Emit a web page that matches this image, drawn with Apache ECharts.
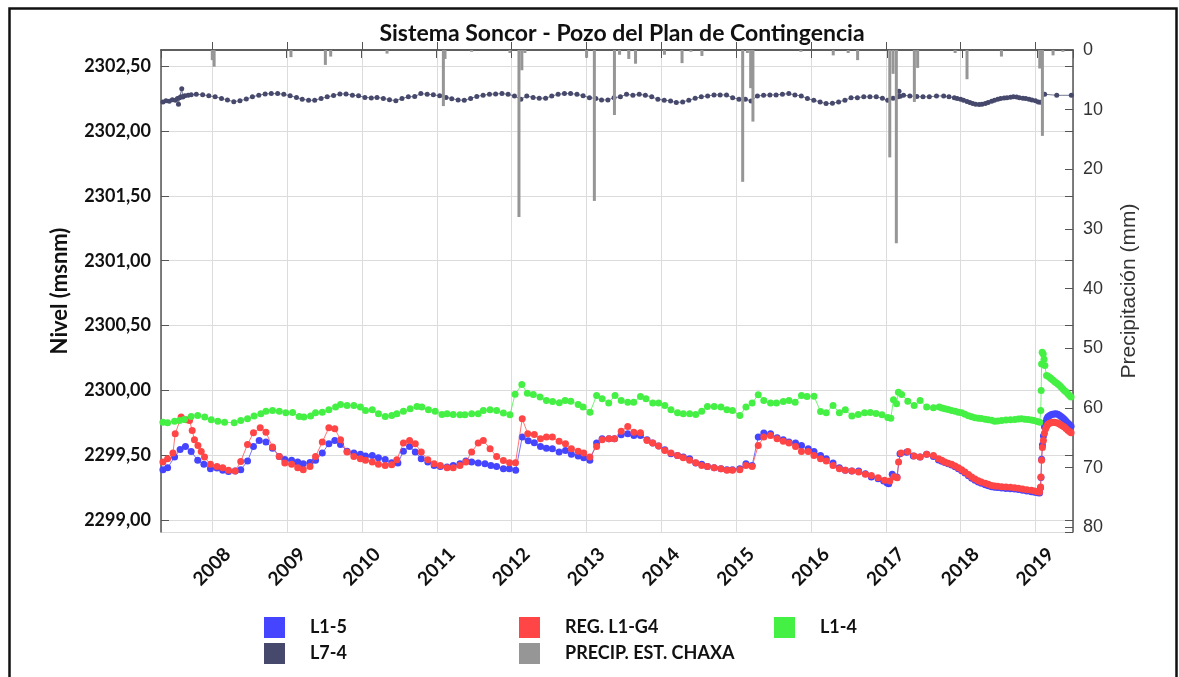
<!DOCTYPE html>
<html><head><meta charset="utf-8">
<script src="https://cdn.jsdelivr.net/npm/echarts@6/dist/echarts.min.js"></script>
<style>html,body{margin:0;padding:0;background:#fff}#c{width:1179px;height:677px}</style>
</head><body><div id="c"></div>
<script>
const TITLE = 'Sistema Soncor - Pozo del Plan de Contingencia';
const NAMES = ['L1-5', 'REG. L1-G4', 'L1-4', 'L7-4', 'PRECIP. EST. CHAXA'];

const L1_5 = [
['2007-05-05',2299.39],['2007-05-28',2299.405],['2007-07-01',2299.487],['2007-07-28',2299.546],['2007-08-23',2299.569],['2007-09-20',2299.531],['2007-10-22',2299.462],['2007-11-21',2299.431],['2007-12-23',2299.397],
['2008-01-24',2299.403],['2008-02-21',2299.385],['2008-03-20',2299.377],['2008-04-22',2299.38],['2008-05-19',2299.39],['2008-06-21',2299.456],['2008-07-20',2299.569],['2008-08-17',2299.615],['2008-09-19',2299.603],['2008-10-21',2299.556],['2008-11-23',2299.492],['2008-12-20',2299.469],
['2009-01-22',2299.462],['2009-02-21',2299.449],['2009-03-20',2299.436],['2009-04-22',2299.446],['2009-05-19',2299.462],['2009-06-21',2299.518],['2009-07-23',2299.59],['2009-08-21',2299.615],['2009-09-18',2299.585],['2009-10-20',2299.533],['2009-11-22',2299.518],['2009-12-24',2299.508],
['2010-01-18',2299.495],['2010-02-20',2299.5],['2010-03-22',2299.482],['2010-04-24',2299.469],['2010-05-26',2299.444],['2010-06-25',2299.441],['2010-07-22',2299.533],['2010-08-21',2299.569],['2010-09-18',2299.526],['2010-10-17',2299.474],['2010-11-18',2299.449],['2010-12-19',2299.423],
['2011-01-18',2299.415],['2011-02-20',2299.41],['2011-03-22',2299.423],['2011-04-24',2299.436],['2011-05-23',2299.456],['2011-06-20',2299.449],['2011-07-22',2299.441],['2011-08-24',2299.436],['2011-09-22',2299.423],['2011-10-20',2299.415],['2011-11-22',2299.397],['2011-12-21',2299.397],
['2012-01-21',2299.385],['2012-02-22',2299.641],['2012-03-22',2299.612],['2012-04-21',2299.597],['2012-05-21',2299.569],['2012-06-19',2299.556],['2012-07-18',2299.551],['2012-08-20',2299.526],['2012-09-20',2299.538],['2012-10-19',2299.508],['2012-11-21',2299.495],['2012-12-18',2299.482],
['2013-01-17',2299.462],['2013-02-19',2299.595],['2013-03-18',2299.628],['2013-04-20',2299.628],['2013-05-17',2299.628],['2013-06-19',2299.659],['2013-07-21',2299.667],['2013-08-20',2299.654],['2013-09-21',2299.654],['2013-10-23',2299.62],['2013-11-20',2299.595],['2013-12-19',2299.572],
['2014-01-18',2299.544],['2014-02-17',2299.513],['2014-03-21',2299.5],['2014-04-18',2299.487],['2014-05-19',2299.474],['2014-06-18',2299.441],['2014-07-17',2299.431],['2014-08-14',2299.415],['2014-09-16',2299.405],['2014-10-19',2299.397],['2014-11-17',2299.39],['2014-12-14',2299.39],
['2015-01-19',2299.397],['2015-02-18',2299.436],['2015-03-20',2299.423],['2015-04-19',2299.641],['2015-05-16',2299.672],['2015-06-18',2299.667],['2015-07-20',2299.636],['2015-08-19',2299.62],['2015-09-16',2299.603],['2015-10-18',2299.595],['2015-11-16',2299.577],['2015-12-19',2299.551],
['2016-01-16',2299.531],['2016-02-17',2299.5],['2016-03-16',2299.474],['2016-04-18',2299.441],['2016-05-19',2299.405],['2016-06-17',2299.385],['2016-07-19',2299.379],['2016-08-21',2299.379],['2016-09-23',2299.359],['2016-10-22',2299.333],['2016-11-24',2299.321],['2016-12-21',2299.303],
['2017-01-07',2299.287],['2017-01-15',2299.282],['2017-02-01',2299.354],['2017-02-24',2299.333],['2017-03-11',2299.513],['2017-04-12',2299.525],['2017-05-15',2299.495],['2017-06-17',2299.487],['2017-07-19',2299.508],['2017-08-21',2299.492],['2017-09-15',2299.465],
['2017-10-01',2299.455],['2017-10-16',2299.445],['2017-11-01',2299.435],['2017-11-18',2299.426],['2017-12-05',2299.412],['2017-12-21',2299.398],
['2018-01-06',2299.382],['2018-01-22',2299.364],['2018-02-08',2299.344],['2018-02-24',2299.325],['2018-03-12',2299.309],['2018-03-28',2299.296],['2018-04-12',2299.285],['2018-05-01',2299.274],['2018-05-16',2299.266],['2018-06-01',2299.259],['2018-06-16',2299.255],['2018-07-01',2299.252],['2018-07-20',2299.249],['2018-08-10',2299.246],['2018-09-01',2299.244],['2018-09-21',2299.241],['2018-10-10',2299.237],['2018-10-30',2299.232],['2018-11-20',2299.226],['2018-12-12',2299.221],['2018-12-28',2299.216],
['2019-01-12',2299.212],['2019-01-21',2299.21],['2019-01-26',2299.25],['2019-01-28',2299.33],['2019-01-31',2299.47],['2019-02-04',2299.58],['2019-02-09',2299.65],['2019-02-14',2299.72],['2019-02-20',2299.756],['2019-02-25',2299.78],['2019-03-02',2299.795],['2019-03-10',2299.806],['2019-03-18',2299.813],['2019-03-26',2299.817],['2019-04-03',2299.819],['2019-04-11',2299.82],['2019-04-20',2299.818],['2019-04-28',2299.81],['2019-05-06',2299.8],['2019-05-14',2299.79],['2019-05-22',2299.778],['2019-05-30',2299.765],['2019-06-08',2299.75],['2019-06-16',2299.738],['2019-06-24',2299.725]
];

const REG_L1_G4 = [
['2007-05-05',2299.449],['2007-05-28',2299.474],['2007-06-23',2299.518],['2007-07-04',2299.667],['2007-08-02',2299.795],['2007-08-27',2299.774],['2007-09-12',2299.769],['2007-09-25',2299.692],['2007-10-06',2299.621],['2007-10-23',2299.577],['2007-11-08',2299.531],['2007-11-24',2299.487],['2007-12-23',2299.431],
['2008-01-24',2299.415],['2008-02-21',2299.405],['2008-03-20',2299.385],['2008-04-22',2299.379],['2008-05-19',2299.454],['2008-06-21',2299.585],['2008-07-20',2299.674],['2008-08-22',2299.713],['2008-09-19',2299.679],['2008-10-21',2299.564],['2008-11-23',2299.492],['2008-12-20',2299.441],
['2009-01-22',2299.431],['2009-02-21',2299.405],['2009-03-20',2299.39],['2009-04-22',2299.415],['2009-05-19',2299.492],['2009-06-21',2299.603],['2009-07-23',2299.713],['2009-08-21',2299.705],['2009-09-18',2299.621],['2009-10-20',2299.526],['2009-11-22',2299.492],['2009-12-24',2299.474],
['2010-01-18',2299.462],['2010-02-20',2299.449],['2010-03-22',2299.431],['2010-04-24',2299.423],['2010-05-26',2299.428],['2010-06-20',2299.467],['2010-07-22',2299.595],['2010-08-21',2299.615],['2010-09-18',2299.59],['2010-10-17',2299.526],['2010-11-18',2299.467],['2010-12-19',2299.436],
['2011-01-18',2299.423],['2011-02-20',2299.405],['2011-03-22',2299.405],['2011-04-24',2299.423],['2011-05-23',2299.449],['2011-06-20',2299.526],['2011-07-22',2299.595],['2011-08-16',2299.615],['2011-09-18',2299.551],['2011-10-20',2299.492],['2011-11-22',2299.46],['2011-12-22',2299.444],
['2012-01-20',2299.443],['2012-02-22',2299.782],['2012-03-20',2299.667],['2012-04-21',2299.662],['2012-05-21',2299.628],['2012-06-19',2299.641],['2012-07-18',2299.641],['2012-08-20',2299.61],['2012-09-20',2299.59],['2012-10-19',2299.551],['2012-11-21',2299.533],['2012-12-18',2299.518],
['2013-01-17',2299.487],['2013-02-19',2299.569],['2013-03-18',2299.621],['2013-04-20',2299.628],['2013-05-17',2299.628],['2013-06-19',2299.687],['2013-07-21',2299.723],['2013-08-20',2299.679],['2013-09-21',2299.674],['2013-10-23',2299.615],['2013-11-20',2299.595],['2013-12-19',2299.572],
['2014-01-18',2299.538],['2014-02-17',2299.518],['2014-03-21',2299.5],['2014-04-18',2299.482],['2014-05-19',2299.462],['2014-06-18',2299.444],['2014-07-17',2299.423],['2014-08-14',2299.415],['2014-09-16',2299.405],['2014-10-19',2299.397],['2014-11-17',2299.385],['2014-12-14',2299.385],
['2015-01-19',2299.39],['2015-02-18',2299.423],['2015-03-20',2299.415],['2015-04-19',2299.577],['2015-05-16',2299.641],['2015-06-18',2299.654],['2015-07-20',2299.628],['2015-08-19',2299.61],['2015-09-16',2299.595],['2015-10-18',2299.569],['2015-11-16',2299.531],['2015-12-19',2299.531],
['2016-01-16',2299.5],['2016-02-17',2299.474],['2016-03-16',2299.456],['2016-04-18',2299.423],['2016-05-19',2299.397],['2016-06-17',2299.385],['2016-07-19',2299.379],['2016-08-21',2299.372],['2016-09-23',2299.354],['2016-10-22',2299.346],['2016-11-24',2299.328],['2016-12-26',2299.308],
['2017-01-20',2299.303],['2017-02-09',2299.335],['2017-02-25',2299.328],['2017-03-04',2299.45],['2017-03-16',2299.518],['2017-04-18',2299.531],['2017-05-19',2299.495],['2017-06-17',2299.487],['2017-07-19',2299.508],['2017-08-21',2299.5],['2017-09-15',2299.474],
['2017-10-01',2299.462],['2017-10-16',2299.449],['2017-11-01',2299.44],['2017-11-18',2299.431],['2017-12-05',2299.418],['2017-12-21',2299.405],
['2018-01-06',2299.39],['2018-01-22',2299.372],['2018-02-08',2299.352],['2018-02-24',2299.333],['2018-03-12',2299.318],['2018-03-28',2299.305],['2018-04-12',2299.295],['2018-05-01',2299.285],['2018-05-16',2299.277],['2018-06-01',2299.269],['2018-06-16',2299.265],['2018-07-01',2299.262],['2018-07-20',2299.259],['2018-08-10',2299.256],['2018-09-01',2299.254],['2018-09-21',2299.251],['2018-10-10',2299.247],['2018-10-30',2299.242],['2018-11-20',2299.236],['2018-12-12',2299.231],['2018-12-28',2299.226],
['2019-01-12',2299.221],['2019-01-21',2299.218],['2019-01-26',2299.256],['2019-01-28',2299.333],['2019-01-31',2299.462],['2019-02-04',2299.56],['2019-02-09',2299.615],['2019-02-14',2299.67],['2019-02-20',2299.705],['2019-02-25',2299.725],['2019-03-02',2299.738],['2019-03-10',2299.747],['2019-03-18',2299.752],['2019-03-26',2299.756],['2019-04-03',2299.755],['2019-04-11',2299.752],['2019-04-20',2299.749],['2019-04-28',2299.742],['2019-05-06',2299.734],['2019-05-14',2299.726],['2019-05-22',2299.718],['2019-05-30',2299.708],['2019-06-08',2299.694],['2019-06-16',2299.684],['2019-06-24',2299.675]
];

const L1_4 = [
['2007-05-05',2299.756],['2007-05-28',2299.751],['2007-07-01',2299.764],['2007-07-25',2299.769],['2007-08-18',2299.777],['2007-09-20',2299.8],['2007-10-22',2299.808],['2007-11-25',2299.795],['2007-12-27',2299.774],
['2008-01-28',2299.764],['2008-03-01',2299.756],['2008-04-17',2299.751],['2008-05-19',2299.769],['2008-06-21',2299.782],['2008-07-23',2299.803],['2008-08-25',2299.821],['2008-09-19',2299.841],['2008-10-21',2299.846],['2008-11-23',2299.841],['2008-12-25',2299.828],
['2009-01-27',2299.831],['2009-02-28',2299.8],['2009-03-23',2299.795],['2009-04-25',2299.803],['2009-05-19',2299.828],['2009-06-21',2299.833],['2009-07-23',2299.851],['2009-08-25',2299.872],['2009-09-18',2299.892],['2009-10-20',2299.885],['2009-11-22',2299.885],['2009-12-24',2299.872],
['2010-01-18',2299.846],['2010-02-20',2299.851],['2010-03-22',2299.821],['2010-04-24',2299.8],['2010-05-26',2299.808],['2010-06-20',2299.821],['2010-07-22',2299.841],['2010-08-24',2299.859],['2010-09-26',2299.877],['2010-10-20',2299.872],['2010-11-21',2299.851],['2010-12-24',2299.841],
['2011-01-26',2299.815],['2011-02-20',2299.821],['2011-03-22',2299.815],['2011-04-24',2299.813],['2011-05-18',2299.813],['2011-06-20',2299.821],['2011-07-22',2299.821],['2011-08-16',2299.846],['2011-09-18',2299.851],['2011-10-20',2299.846],['2011-11-22',2299.826],['2011-12-24',2299.813],
['2012-01-18',2299.972],['2012-02-20',2300.046],['2012-03-18',2299.979],['2012-04-16',2299.969],['2012-05-19',2299.949],['2012-06-19',2299.923],['2012-07-19',2299.915],['2012-08-21',2299.905],['2012-09-18',2299.923],['2012-10-16',2299.918],['2012-11-21',2299.892],['2012-12-15',2299.872],
['2013-01-18',2299.833],['2013-02-19',2299.962],['2013-03-18',2299.936],['2013-04-19',2299.903],['2013-05-20',2299.962],['2013-06-19',2299.923],['2013-07-21',2299.91],['2013-08-19',2299.91],['2013-09-21',2299.954],['2013-10-18',2299.936],['2013-11-20',2299.903],['2013-12-19',2299.903],
['2014-01-18',2299.885],['2014-02-17',2299.851],['2014-03-21',2299.828],['2014-04-18',2299.821],['2014-05-19',2299.821],['2014-06-18',2299.815],['2014-07-17',2299.841],['2014-08-14',2299.877],['2014-09-16',2299.877],['2014-10-19',2299.872],['2014-11-17',2299.851],['2014-12-14',2299.846],
['2015-01-19',2299.808],['2015-02-18',2299.872],['2015-03-20',2299.903],['2015-04-19',2299.967],['2015-05-16',2299.923],['2015-06-18',2299.903],['2015-07-17',2299.903],['2015-08-19',2299.915],['2015-09-16',2299.923],['2015-10-16',2299.91],['2015-11-16',2299.962],['2015-12-13',2299.954],
['2016-01-16',2299.956],['2016-02-17',2299.838],['2016-03-16',2299.828],['2016-04-18',2299.885],['2016-05-19',2299.828],['2016-06-17',2299.851],['2016-07-19',2299.803],['2016-08-19',2299.815],['2016-09-19',2299.828],['2016-10-17',2299.83],['2016-11-14',2299.823],['2016-12-13',2299.814],
['2017-01-10',2299.792],['2017-01-25',2299.787],['2017-02-07',2299.928],['2017-02-22',2299.897],['2017-03-03',2299.987],['2017-03-19',2299.969],['2017-04-18',2299.918],['2017-05-19',2299.885],['2017-06-17',2299.923],['2017-07-19',2299.872],['2017-08-21',2299.867],
['2017-09-18',2299.872],['2017-10-02',2299.866],['2017-10-16',2299.859],['2017-11-01',2299.853],['2017-11-18',2299.846],['2017-12-05',2299.84],['2017-12-21',2299.833],
['2018-01-06',2299.828],['2018-01-22',2299.818],['2018-02-08',2299.806],['2018-02-24',2299.797],['2018-03-12',2299.79],['2018-03-28',2299.786],['2018-04-12',2299.784],['2018-05-01',2299.779],['2018-05-16',2299.775],['2018-06-01',2299.77],['2018-06-16',2299.764],['2018-07-01',2299.766],['2018-07-20',2299.769],['2018-08-10',2299.772],['2018-09-01',2299.775],['2018-09-22',2299.777],['2018-10-10',2299.78],['2018-10-24',2299.782],['2018-11-10',2299.779],['2018-11-26',2299.777],['2018-12-12',2299.773],['2018-12-25',2299.769],
['2019-01-10',2299.762],['2019-01-22',2299.756],['2019-01-27',2299.846],['2019-01-29',2300.0],['2019-01-31',2300.205],['2019-02-03',2300.295],['2019-02-08',2300.282],['2019-02-12',2300.24],['2019-02-16',2300.192],['2019-02-24',2300.115],['2019-03-04',2300.11],['2019-03-12',2300.1],['2019-03-19',2300.09],['2019-03-27',2300.08],['2019-04-04',2300.07],['2019-04-12',2300.06],['2019-04-20',2300.051],['2019-04-28',2300.04],['2019-05-06',2300.027],['2019-05-14',2300.013],['2019-05-22',2300.0],['2019-05-30',2299.99],['2019-06-08',2299.975],['2019-06-16',2299.962],['2019-06-24',2299.949]
];

const L7_4 = [
['2007-05-05',2302.223],['2007-05-20',2302.232],['2007-06-05',2302.228],['2007-06-20',2302.24],['2007-07-05',2302.236],['2007-07-15',2302.25],['2007-07-20',2302.205],['2007-07-25',2302.255],['2007-08-01',2302.262],['2007-08-05',2302.325],['2007-08-10',2302.26],['2007-08-20',2302.27],['2007-09-05',2302.275],['2007-09-20',2302.278],['2007-10-15',2302.282],['2007-11-15',2302.278],['2007-12-15',2302.27],
['2008-01-15',2302.262],['2008-02-15',2302.25],['2008-03-15',2302.238],['2008-04-15',2302.225],['2008-05-15',2302.232],['2008-06-15',2302.245],['2008-07-15',2302.262],['2008-08-15',2302.275],['2008-09-15',2302.284],['2008-10-15',2302.287],['2008-11-15',2302.287],['2008-12-15',2302.282],
['2009-01-15',2302.27],['2009-02-15',2302.258],['2009-03-15',2302.244],['2009-04-15',2302.236],['2009-05-15',2302.236],['2009-06-15',2302.25],['2009-07-15',2302.262],['2009-08-15',2302.272],['2009-09-15',2302.285],['2009-10-15',2302.284],['2009-11-15',2302.275],['2009-12-15',2302.27],
['2010-01-15',2302.258],['2010-02-15',2302.254],['2010-03-15',2302.258],['2010-04-15',2302.25],['2010-05-15',2302.24],['2010-06-15',2302.232],['2010-07-15',2302.25],['2010-08-15',2302.262],['2010-09-15',2302.265],['2010-10-15',2302.287],['2010-11-15',2302.282],['2010-12-15',2302.278],
['2011-01-15',2302.27],['2011-02-15',2302.258],['2011-03-15',2302.248],['2011-04-15',2302.238],['2011-05-15',2302.236],['2011-06-15',2302.25],['2011-07-15',2302.265],['2011-08-15',2302.275],['2011-09-15',2302.282],['2011-10-15',2302.285],['2011-11-15',2302.287],['2011-12-15',2302.282],
['2012-01-15',2302.268],['2012-02-15',2302.244],['2012-03-15',2302.268],['2012-04-15',2302.258],['2012-05-15',2302.252],['2012-06-15',2302.252],['2012-07-15',2302.268],['2012-08-15',2302.282],['2012-09-15',2302.287],['2012-10-15',2302.287],['2012-11-15',2302.282],['2012-12-15',2302.27],
['2013-01-15',2302.256],['2013-02-15',2302.25],['2013-03-15',2302.238],['2013-04-15',2302.238],['2013-05-15',2302.256],['2013-06-15',2302.262],['2013-07-15',2302.282],['2013-08-15',2302.274],['2013-09-15',2302.282],['2013-10-15',2302.274],['2013-11-15',2302.262],['2013-12-15',2302.244],
['2014-01-15',2302.236],['2014-02-15',2302.231],['2014-03-15',2302.218],['2014-04-15',2302.223],['2014-05-15',2302.236],['2014-06-15',2302.251],['2014-07-15',2302.262],['2014-08-15',2302.269],['2014-09-15',2302.277],['2014-10-15',2302.277],['2014-11-15',2302.277],['2014-12-15',2302.256],
['2015-01-15',2302.244],['2015-02-15',2302.244],['2015-03-15',2302.231],['2015-04-15',2302.269],['2015-05-15',2302.274],['2015-06-15',2302.277],['2015-07-15',2302.277],['2015-08-15',2302.282],['2015-09-15',2302.287],['2015-10-15',2302.277],['2015-11-15',2302.269],['2015-12-15',2302.249],
['2016-01-15',2302.236],['2016-02-15',2302.223],['2016-03-15',2302.21],['2016-04-15',2302.213],['2016-05-15',2302.223],['2016-06-15',2302.236],['2016-07-15',2302.256],['2016-08-15',2302.256],['2016-09-15',2302.262],['2016-10-15',2302.262],['2016-11-15',2302.262],['2016-12-15',2302.251],
['2017-01-10',2302.236],['2017-02-05',2302.251],['2017-03-01',2302.262],['2017-03-06',2302.305],['2017-03-12',2302.266],['2017-03-28',2302.274],['2017-04-28',2302.269],['2017-06-01',2302.264],['2017-07-01',2302.262],['2017-08-01',2302.262],['2017-09-05',2302.269],['2017-10-10',2302.269],['2017-11-05',2302.262],
['2017-12-01',2302.255],['2017-12-15',2302.25],['2018-01-01',2302.243],['2018-01-15',2302.236],['2018-02-01',2302.226],['2018-02-15',2302.218],['2018-03-01',2302.21],['2018-03-15',2302.205],['2018-04-01',2302.204],['2018-04-15',2302.205],['2018-05-01',2302.21],['2018-05-15',2302.218],['2018-06-01',2302.228],['2018-06-15',2302.236],['2018-07-01',2302.243],['2018-07-15',2302.249],['2018-08-01',2302.253],['2018-08-15',2302.256],['2018-09-01',2302.259],['2018-09-15',2302.262],['2018-10-01',2302.26],['2018-10-15',2302.256],['2018-11-01',2302.252],['2018-11-15',2302.249],['2018-12-01',2302.244],['2018-12-15',2302.238],
['2019-01-01',2302.232],['2019-01-15',2302.223],['2019-01-25',2302.22],['2019-02-15',2302.282],['2019-04-15',2302.274],['2019-06-25',2302.274]
];

const PRECIP = [
['2008-01-01',1.7],['2008-01-10',2.8],['2009-01-19',1.2],['2009-07-06',2.5],['2009-08-01',1.1],['2010-05-03',0.6],
['2011-02-02',9.4],['2011-02-10',1.5],['2011-06-20',0.3],['2011-12-24',0.5],['2012-02-06',28.0],['2012-02-20',3.4],['2012-03-06',0.5],
['2013-01-01',1.3],['2013-02-08',25.3],['2013-05-17',10.9],['2013-06-11',0.8],['2013-07-26',1.5],['2013-08-28',2.3],
['2014-01-16',0.8],['2014-04-12',2.2],['2014-05-25',0.3],['2014-07-18',1.0],
['2015-02-02',22.1],['2015-02-25',0.5],['2015-03-13',6.4],['2015-03-24',12.0],['2015-11-13',0.3],
['2016-04-19',0.9],['2016-07-01',0.5],['2016-08-16',1.7],
['2017-01-20',18.0],['2017-02-05',4.0],['2017-02-21',32.4],['2017-05-20',8.7],['2017-06-05',3.0],['2017-12-05',0.5],
['2018-02-01',4.9],['2018-07-19',1.1],
['2019-01-22',3.1],['2019-02-04',14.4],['2019-03-28',0.9],['2019-05-15',0.3]
];

const COLORS = ['#4545ff', '#ff4545', '#45f045', '#46486c', '#969696'];
const FONT = 'Lato, "DejaVu Sans", sans-serif';
const ARIAL = '"Liberation Sans", Arial, sans-serif';

const chart = echarts.init(document.getElementById('c'), null, {renderer: 'canvas'});
const fmtLevel = v => v.toFixed(2).replace('.', ',');
const lineSeries = (name, data, color, size, z) => ({
  name, type: 'line', data, xAxisIndex: 0, yAxisIndex: 0,
  symbol: 'circle', symbolSize: size, showAllSymbol: true, color,
  lineStyle: {width: 1, color, opacity: 0.75}, itemStyle: {color}, z, animation: false
});
const legendAt = (name, left, top) => ({
  data: [name], left, top, padding: 0, itemWidth: 21, itemHeight: 21, icon: 'rect',
  textStyle: {fontFamily: FONT, fontSize: 18, fontWeight: 'bold', color: '#111', padding: [0, 0, 0, 20]}
});

chart.setOption({
  animation: false,
  backgroundColor: '#fff',
  title: {text: TITLE, left: 617, top: 17, textAlign: 'center',
    textStyle: {fontFamily: FONT, fontSize: 23, fontWeight: 'bold', color: '#111'}},
  grid: {left: 161, right: 106, top: 50, bottom: 145, containLabel: false},
  legend: [
    legendAt(NAMES[0], 264, 617),
    legendAt(NAMES[1], 519, 617),
    legendAt(NAMES[2], 774, 617),
    legendAt(NAMES[3], 264, 643),
    legendAt(NAMES[4], 519, 643)
  ],
  xAxis: [
    {type: 'time', position: 'bottom', min: '2007-05-03', max: '2019-06-26', splitNumber: 12,
     minInterval: 365 * 864e5, maxInterval: 366 * 864e5,
     axisLine: {lineStyle: {color: '#555', width: 1.5}},
     axisTick: {inside: true, length: 8, lineStyle: {color: '#555'}},
     axisLabel: {rotate: 45, fontFamily: FONT, fontSize: 19, fontWeight: 'bold', color: '#111',
       align: 'right', verticalAlign: 'top', padding: [12, 0, 0, 0], margin: 4,
       showMinLabel: false, showMaxLabel: false,
       formatter: v => String(new Date(v).getFullYear())},
     splitLine: {show: true, lineStyle: {color: '#dcdcdc', width: 1}}},
    {type: 'time', position: 'top', min: '2007-05-03', max: '2019-06-26', splitNumber: 12,
     minInterval: 365 * 864e5, maxInterval: 366 * 864e5,
     axisLine: {lineStyle: {color: '#555', width: 1.5}},
     axisTick: {inside: true, length: 8, lineStyle: {color: '#555'}},
     axisLabel: {show: false}, splitLine: {show: false}}
  ],
  yAxis: [
    {type: 'value', position: 'left', min: 2298.91, max: 2302.623, splitNumber: 7,
     name: 'Nivel (msnm)', nameLocation: 'middle', nameGap: 90,
     nameTextStyle: {fontFamily: FONT, fontSize: 22, fontWeight: 'bold', color: '#111'},
     axisLine: {show: true, lineStyle: {color: '#555', width: 1.5}},
     axisTick: {show: true, inside: true, length: 8, lineStyle: {color: '#555'}},
     axisLabel: {fontFamily: FONT, fontSize: 18, fontWeight: 'bold', color: '#111', margin: 10,
       showMinLabel: false, showMaxLabel: false, formatter: fmtLevel},
     splitLine: {show: true, lineStyle: {color: '#dcdcdc', width: 1}}},
    {type: 'value', position: 'right', inverse: true, min: 0, max: 80.8, interval: 10,
     name: 'Precipitación (mm)', nameLocation: 'middle', nameGap: 46, nameRotate: 90,
     nameTextStyle: {fontFamily: ARIAL, fontSize: 21, color: '#333'},
     axisLine: {show: true, lineStyle: {color: '#555', width: 1.5}},
     axisTick: {show: true, inside: true, length: 8, lineStyle: {color: '#555'}},
     axisLabel: {fontFamily: ARIAL, fontSize: 18, color: '#333', margin: 10, showMaxLabel: false},
     splitLine: {show: false}},
    {type: 'value', position: 'right', min: 2298.91, max: 2302.623, splitNumber: 7,
     axisLine: {show: false}, axisTick: {show: true, inside: true, length: 8, lineStyle: {color: '#555'}},
     axisLabel: {show: false}, splitLine: {show: false}}
  ],
  series: [
    lineSeries(NAMES[0], L1_5, COLORS[0], 7, 2),
    lineSeries(NAMES[1], REG_L1_G4, COLORS[1], 7, 3),
    lineSeries(NAMES[2], L1_4, COLORS[2], 7, 4),
    lineSeries(NAMES[3], L7_4, COLORS[3], 5, 5),
    {name: NAMES[4], type: 'bar', data: PRECIP, xAxisIndex: 0, yAxisIndex: 1, barWidth: 3,
     color: COLORS[4], itemStyle: {color: COLORS[4]}, z: 6, animation: false}
  ],
  graphic: [
    {type: 'rect', left: 7, top: 6, shape: {x: 0, y: 0, width: 1167, height: 700},
     style: {fill: null, stroke: '#111', lineWidth: 2.5}, silent: true, z: 100}
  ]
});
</script></body></html>
